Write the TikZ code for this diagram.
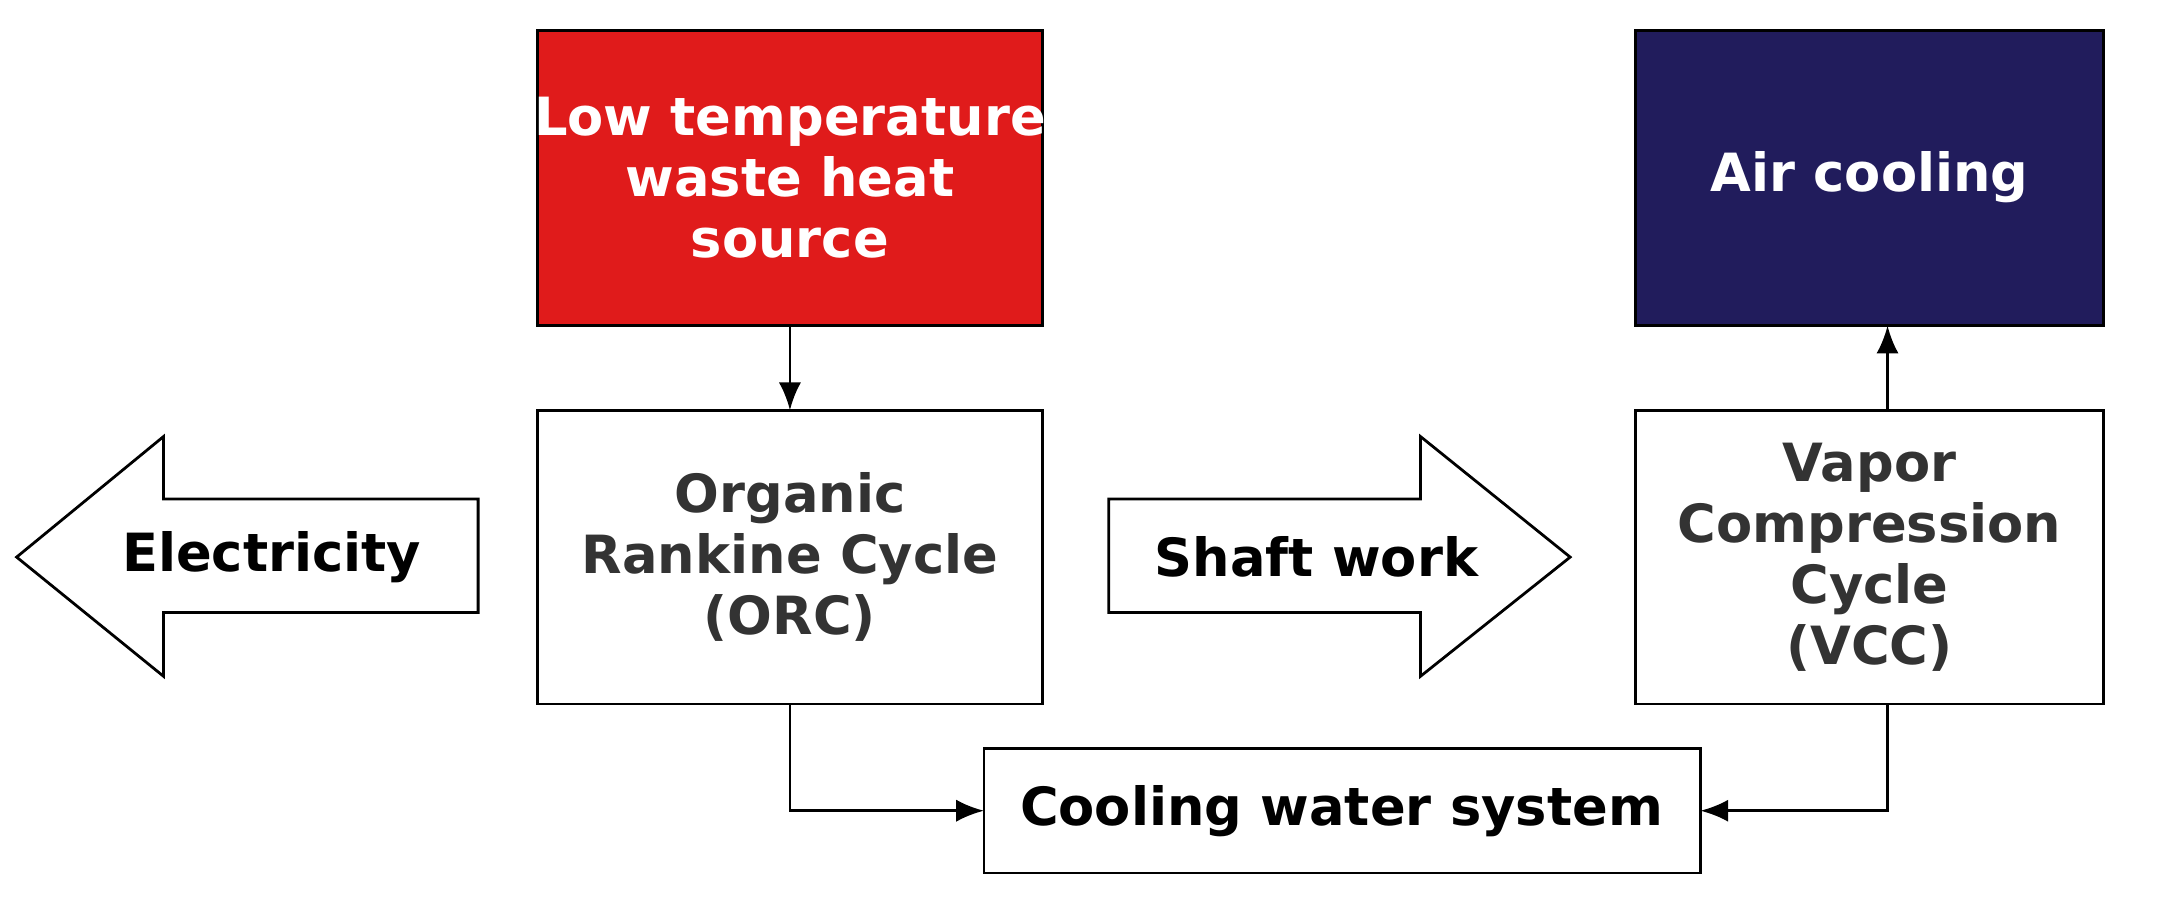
\documentclass[tikz,border=0pt]{standalone}
\usepackage{fontspec}
\setmainfont{DejaVu Sans}
\usetikzlibrary{arrows.meta}
\definecolor{hot}{HTML}{E01B1B}
\definecolor{navy}{HTML}{211C5C}
\definecolor{txt}{HTML}{333333}
\begin{document}
\begin{tikzpicture}[x=1pt,y=-1pt,
  box/.style={draw,line width=2pt,font=\fontsize{38}{44}\selectfont\bfseries,align=center,inner sep=0pt},
  conn/.style={line width=2pt,-{Latex[length=20pt,width=16pt]}},
  lbl/.style={font=\fontsize{38}{44}\selectfont\bfseries}]
\useasboundingbox (0,0) rectangle (1568,650);
\path[box,fill=hot,text=white] (388,22) rectangle (752,235);
\node[box,draw=none,text=white] (src) at (570,128) {Low temperature\\waste heat\\source};
\path[box,fill=navy] (1180,22) rectangle (1518,235);
\node[box,draw=none,text=white] (air) at (1349,128) {Air cooling};
\path[box] (388,296) rectangle (752,508);
\node[box,draw=none,text=txt] (orc) at (570,402) {Organic\\Rankine Cycle\\(ORC)};
\path[box] (1180,296) rectangle (1518,508);
\node[box,draw=none,text=txt] (vcc) at (1349,402) {Vapor\\Compression\\Cycle\\(VCC)};
\path[box] (710,540) rectangle (1227,630);
\node[lbl] (cw) at (968,585) {Cooling water system};
\draw[line width=2pt] (12,402) -- (118,315) -- (118,360) -- (345,360) -- (345,442) -- (118,442) -- (118,488) -- cycle;
\node[lbl] (el) at (196,402) {Electricity};
\draw[line width=2pt] (1133,402) -- (1025,315) -- (1025,360) -- (800,360) -- (800,442) -- (1025,442) -- (1025,488) -- cycle;
\node[lbl] (sw) at (950,402) {Shaft work};
\coordinate (a1) at (570,235); \coordinate (a2) at (570,296);
\coordinate (b1) at (1362,296); \coordinate (b2) at (1362,235);
\coordinate (c1) at (570,508); \coordinate (c2) at (710,585);
\coordinate (d1) at (1362,508); \coordinate (d2) at (1227,585);
\draw[conn] (a1) -- (a2);
\draw[conn] (b1) -- (b2);
\draw[conn] (c1) |- (c2);
\draw[conn] (d1) |- (d2);
\end{tikzpicture}
\end{document}
